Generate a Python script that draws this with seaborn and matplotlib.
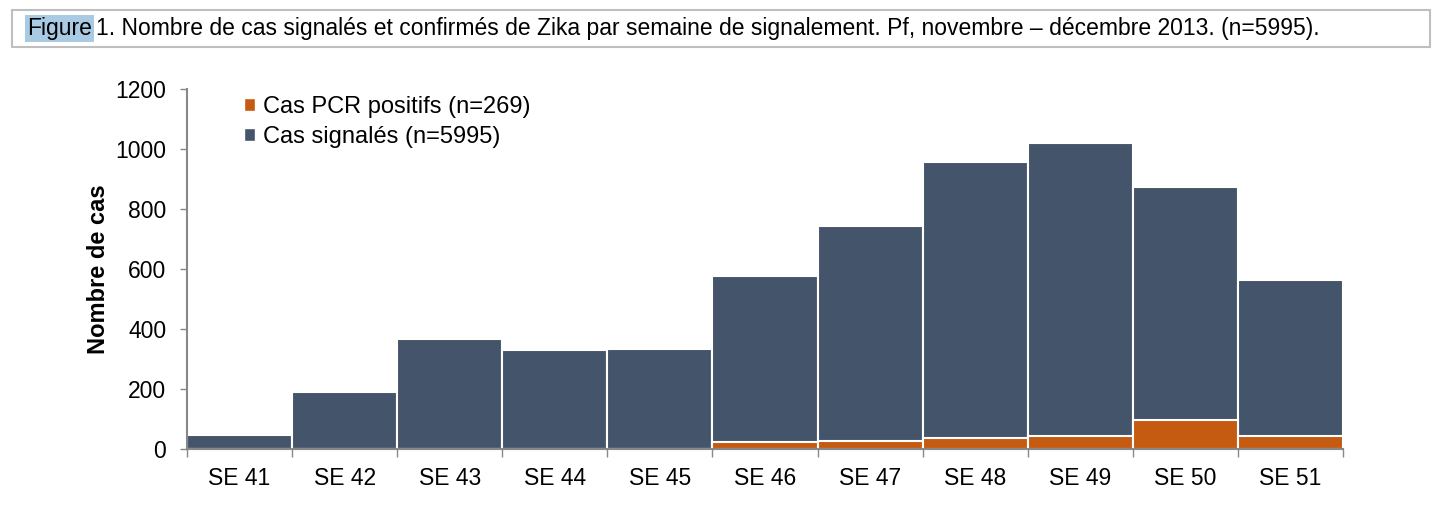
import numpy as np
import pandas as pd
import matplotlib.pyplot as plt
import seaborn as sns
from matplotlib.patches import Rectangle, Patch

# donnees
semaines = ['SE 41', 'SE 42', 'SE 43', 'SE 44', 'SE 45', 'SE 46',
            'SE 47', 'SE 48', 'SE 49', 'SE 50', 'SE 51']
cas_signales = [47, 190, 368, 330, 332, 575, 742, 955, 1020, 872, 562]
cas_pcr = [0, 0, 0, 0, 0, 22, 25, 36, 42, 98, 44]

df = pd.DataFrame({'semaine': semaines, 'signales': cas_signales, 'pcr': cas_pcr})

sns.set_style('white')
plt.rcParams['font.family'] = ['Liberation Sans', 'DejaVu Sans']
plt.rcParams['text.color'] = 'black'
plt.rcParams['xtick.color'] = 'black'
plt.rcParams['ytick.color'] = 'black'
plt.rcParams['axes.labelcolor'] = 'black'

fig = plt.figure(figsize=(14.43, 5.26), dpi=100)
ax = fig.add_axes([0.1296, 0.1464, 0.8011, 0.6844])

bleu = '#44546A'
orange = '#C55A11'

sns.barplot(data=df, x='semaine', y='signales', color=bleu, width=1.0,
            saturation=1, edgecolor='white', linewidth=1.5, ax=ax)
sns.barplot(data=df, x='semaine', y='pcr', color=orange, width=1.0,
            saturation=1, edgecolor='white', linewidth=1.5, ax=ax)

ax.set_xlim(-0.5, len(semaines) - 0.5)
ax.set_ylim(0, 1200)
ax.set_yticks(range(0, 1201, 200))
ax.set_xlabel('')
ax.set_ylabel('Nombre de cas', fontsize=17, fontweight='bold', labelpad=4)

ax.set_xticks(np.arange(-0.5, len(semaines)), minor=True)
ax.tick_params(axis='x', which='major', length=0, labelsize=16.5, pad=13,
               labelcolor='black')
ax.tick_params(axis='x', which='minor', length=6, width=1, color='#888888',
               direction='out', bottom=True)
ax.tick_params(axis='y', length=5, width=1, color='#888888', direction='out',
               left=True, labelsize=16.5, pad=10, labelcolor='black')

sns.despine(ax=ax)
for s in ['left', 'bottom']:
    ax.spines[s].set_color('#888888')
    ax.spines[s].set_linewidth(1.5)

handles = [Patch(facecolor=orange, label='Cas PCR positifs (n=269)'),
           Patch(facecolor=bleu, label='Cas signalés (n=5995)')]
ax.legend(handles=handles, loc='upper left', bbox_to_anchor=(0.031, 1.04),
          frameon=False, fontsize=17, handlelength=0.45, handleheight=0.45,
          handletextpad=0.35, labelspacing=0.35)

# cadre du titre
fig.patches.append(Rectangle((12 / 1443, 1 - 47 / 526), 1418 / 1443, 37 / 526,
                             transform=fig.transFigure, fill=False,
                             edgecolor='#BFBFBF', linewidth=1.5))
t1 = fig.text(27 / 1443, 1 - 28.5 / 526, 'Figure', fontsize=16.5, va='center',
              ha='left', color='black',
              bbox=dict(facecolor='#A9CAE3', edgecolor='none', pad=1.5))
ax.annotate('1. Nombre de cas signalés et confirmés de Zika par semaine de signalement. '
            'Pf, novembre \u2013 décembre 2013. (n=5995).',
            xy=(1, 0), xycoords=t1, xytext=(3, 0), textcoords='offset points',
            fontsize=16.5, va='bottom', ha='left', color='black',
            annotation_clip=False)

fig.savefig('out.png', dpi=100)
